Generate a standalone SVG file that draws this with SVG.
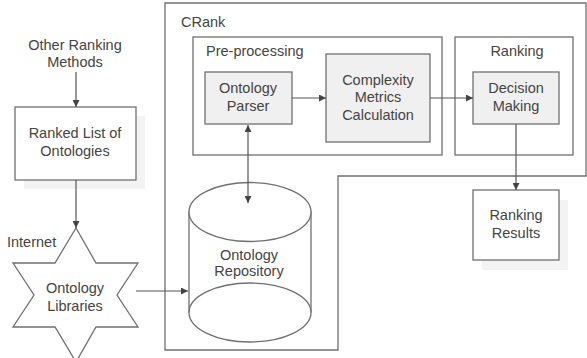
<svg xmlns="http://www.w3.org/2000/svg" width="587" height="358" viewBox="0 0 587 358">
  <defs>
    <marker id="arrow" viewBox="0 0 10 10" refX="10" refY="5" markerWidth="7" markerHeight="7" markerUnits="userSpaceOnUse" orient="auto-start-reverse">
      <path d="M0,0 L10,5 L0,10 Z" fill="#444"/>
    </marker>
    <style>
      .frame { fill: none; stroke: #707070; stroke-width: 1.3; }
      .box { fill: #fff; stroke: #707070; stroke-width: 1.3; }
      .proc { fill: #f0f0f0; stroke: #707070; stroke-width: 1.3; }
      .shadow { fill: #f3f3f3; stroke: none; }
      .edge { fill: none; stroke: #555; stroke-width: 1.2; }
      text { font-family: "Liberation Sans", Arial, sans-serif; font-size: 14.5px; fill: #444; }
      .c { text-anchor: middle; }
    </style>
  </defs>
  <rect width="587" height="358" fill="#fff"/>

  <!-- CRank system boundary -->
  <g id="crank">
    <path class="frame" d="M165,3 H586 V176 H338 V350 H165 Z"/>
    <text x="181" y="27">CRank</text>
  </g>

  <g id="preprocessing">
    <rect class="frame" x="193" y="37" width="249" height="118"/>
    <text x="206" y="56">Pre-processing</text>
  </g>

  <g id="ranking">
    <rect class="frame" x="455" y="37" width="118" height="118"/>
    <text class="c" x="517" y="56">Ranking</text>
  </g>

  <g id="other-methods">
    <text class="c" x="75" y="50">Other Ranking</text>
    <text class="c" x="75" y="67">Methods</text>
  </g>

  <g id="ranked-list">
    <rect class="shadow" x="24" y="116" width="121" height="73"/>
    <rect class="box" x="15" y="107" width="121" height="73"/>
    <text class="c" x="75" y="138">Ranked List of</text>
    <text class="c" x="75" y="156">Ontologies</text>
  </g>

  <g id="ontology-libraries">
    <polygon class="box" points="76,228 96,263 138,263 117,295 138,327 96,327 76,362 55,327 13,327 34,295 13,263 55,263"/>
    <text x="7" y="247">Internet</text>
    <text class="c" x="75" y="293">Ontology</text>
    <text class="c" x="75" y="311">Libraries</text>
  </g>

  <g id="ontology-repository">
    <path class="box" d="M189,212 V312.5 A61,29.5 0 0 0 311,312.5 V212 Z"/>
    <ellipse class="box" cx="250" cy="212" rx="61" ry="29.5"/>
    <path class="frame" d="M189,312.5 A61,29.5 0 0 1 311,312.5"/>
    <text class="c" x="249" y="260">Ontology</text>
    <text class="c" x="249" y="276">Repository</text>
  </g>

  <g id="ontology-parser">
    <rect class="proc" x="205" y="72" width="87" height="52"/>
    <text class="c" x="248" y="93">Ontology</text>
    <text class="c" x="248" y="111">Parser</text>
  </g>

  <g id="complexity-metrics">
    <rect class="proc" x="326" y="54" width="104" height="88"/>
    <text class="c" x="378" y="85">Complexity</text>
    <text class="c" x="378" y="102">Metrics</text>
    <text class="c" x="378" y="120">Calculation</text>
  </g>

  <g id="decision-making">
    <rect class="proc" x="473" y="72" width="86" height="52"/>
    <text class="c" x="516" y="93">Decision</text>
    <text class="c" x="516" y="111">Making</text>
  </g>

  <g id="ranking-results">
    <rect class="shadow" x="482" y="200" width="86" height="70"/>
    <rect class="box" x="473" y="190" width="86" height="70"/>
    <text class="c" x="516" y="220">Ranking</text>
    <text class="c" x="516" y="238">Results</text>
  </g>

  <!-- connectors -->
  <g id="connectors">
    <line class="edge" x1="76" y1="72" x2="76" y2="107" marker-end="url(#arrow)"/>
    <line class="edge" x1="76" y1="180" x2="76" y2="228" marker-end="url(#arrow)"/>
    <line class="edge" x1="136" y1="291" x2="188" y2="291" marker-end="url(#arrow)"/>
    <line class="edge" x1="248" y1="125" x2="248" y2="203" marker-start="url(#arrow)" marker-end="url(#arrow)"/>
    <line class="edge" x1="292" y1="98" x2="326" y2="98" marker-end="url(#arrow)"/>
    <line class="edge" x1="430" y1="98" x2="473" y2="98" marker-end="url(#arrow)"/>
    <line class="edge" x1="516" y1="124" x2="516" y2="190" marker-end="url(#arrow)"/>
  </g>
</svg>
